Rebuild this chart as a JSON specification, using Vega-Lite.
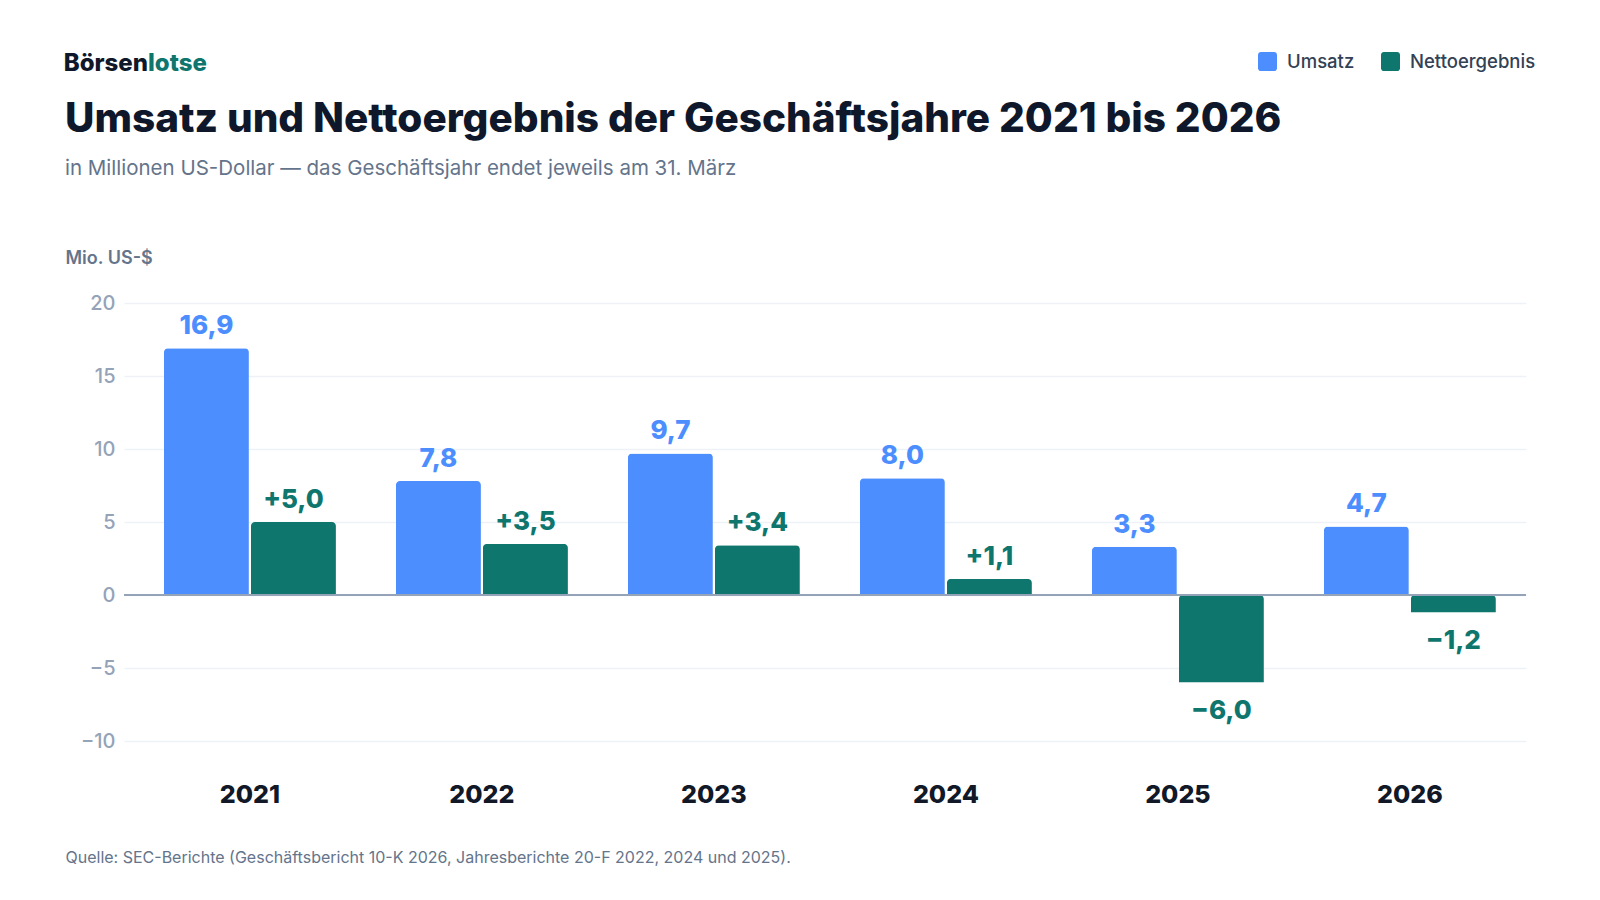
{
  "$schema": "https://vega.github.io/schema/vega-lite/v6.json",
  "background": "white",
  "padding": {"left": 63, "top": 52, "right": 40, "bottom": 30},
  "config": {
    "font": "Inter",
    "view": {"stroke": null},
    "locale": {
      "number": {
        "decimal": ",",
        "thousands": ".",
        "grouping": [3],
        "currency": ["", " $"],
        "minus": "−"
      }
    }
  },
  "spacing": 24,
  "vconcat": [
    {
      "width": 1402,
      "height": 24,
      "data": {"values": [{"part": "Börsen"}, {"part": "lotse"}]},
      "layer": [
        {
          "transform": [{"filter": "datum.part === 'Börsen'"}],
          "mark": {"type": "text", "align": "right", "baseline": "middle", "dx": 24, "fontSize": 24, "fontWeight": 800, "color": "#0f172a"},
          "encoding": {
            "x": {"datum": 0, "type": "quantitative", "scale": {"domain": [0, 1]}, "axis": null},
            "text": {"field": "part"}
          }
        },
        {
          "transform": [{"filter": "datum.part === 'lotse'"}],
          "mark": {"type": "text", "align": "left", "baseline": "middle", "dx": 24, "fontSize": 24, "fontWeight": 800, "color": "#0f766e"},
          "encoding": {
            "x": {"datum": 0, "type": "quantitative", "scale": {"domain": [0, 1]}, "axis": null},
            "text": {"field": "part"}
          }
        }
      ]
    },
    {
      "width": 1402,
      "height": 438,
      "title": {
        "text": "Umsatz und Nettoergebnis der Geschäftsjahre 2021 bis 2026",
        "subtitle": "in Millionen US-Dollar — das Geschäftsjahr endet jeweils am 31. März",
        "anchor": "start",
        "frame": "bounds",
        "font": "Inter",
        "fontSize": 40.5,
        "fontWeight": 800,
        "color": "#0f172a",
        "subtitleFont": "Inter",
        "subtitleFontSize": 20.5,
        "subtitleFontWeight": 400,
        "subtitleColor": "#64748b",
        "subtitlePadding": 18,
        "offset": 70
      },
      "data": {
        "values": [
          {"year": "2021", "series": "Umsatz", "value": 16.9},
          {"year": "2021", "series": "Nettoergebnis", "value": 5.0},
          {"year": "2022", "series": "Umsatz", "value": 7.8},
          {"year": "2022", "series": "Nettoergebnis", "value": 3.5},
          {"year": "2023", "series": "Umsatz", "value": 9.7},
          {"year": "2023", "series": "Nettoergebnis", "value": 3.4},
          {"year": "2024", "series": "Umsatz", "value": 8.0},
          {"year": "2024", "series": "Nettoergebnis", "value": 1.1},
          {"year": "2025", "series": "Umsatz", "value": 3.3},
          {"year": "2025", "series": "Nettoergebnis", "value": -6.0},
          {"year": "2026", "series": "Umsatz", "value": 4.7},
          {"year": "2026", "series": "Nettoergebnis", "value": -1.2}
        ]
      },
      "layer": [
        {
          "encoding": {
            "x": {
              "field": "year",
              "type": "nominal",
              "scale": {"paddingInner": 0.2586, "paddingOuter": 0.151, "align": 0.57},
              "axis": {
                "labelAngle": 0,
                "labelFontSize": 25,
                "labelFontWeight": 800,
                "labelColor": "#111827",
                "labelPadding": 41,
                "domain": false,
                "ticks": false,
                "grid": false,
                "title": "Quelle: SEC-Berichte (Geschäftsbericht 10-K 2026, Jahresberichte 20-F 2022, 2024 und 2025).",
                "titleX": -59,
                "titleY": 116,
                "titleAlign": "left",
                "titleBaseline": "middle",
                "titleFontSize": 16,
                "titleFontWeight": 400,
                "titleColor": "#64748b"
              }
            },
            "xOffset": {
              "field": "series",
              "type": "nominal",
              "scale": {"domain": ["Umsatz", "Nettoergebnis"], "paddingInner": 0.023}
            },
            "y": {
              "field": "value",
              "type": "quantitative",
              "scale": {"domain": [-10, 20], "nice": false},
              "axis": {
                "values": [-10, -5, 0, 5, 10, 15, 20],
                "labelFontSize": 20,
                "labelFontWeight": 500,
                "labelColor": "#94a3b8",
                "labelPadding": 9,
                "domain": false,
                "ticks": false,
                "gridColor": "#eef1f5",
                "gridWidth": 1.5,
                "title": "Mio. US-$",
                "titleAngle": 0,
                "titleX": -59,
                "titleY": -45,
                "titleAlign": "left",
                "titleBaseline": "middle",
                "titleFontSize": 18,
                "titleFontWeight": 600,
                "titleColor": "#64748b"
              }
            }
          },
          "layer": [
            {
              "mark": {"type": "bar", "cornerRadiusEnd": 4},
              "encoding": {
                "color": {
                  "field": "series",
                  "type": "nominal",
                  "scale": {"domain": ["Umsatz", "Nettoergebnis"], "range": ["#4d8eff", "#0f766e"]},
                  "legend": {
                    "orient": "none",
                    "legendX": 1134,
                    "legendY": 0,
                    "direction": "horizontal",
                    "title": null,
                    "symbolType": "M-0.7,-1H0.7A0.3,0.3 0 0 1 1,-0.7V0.7A0.3,0.3 0 0 1 0.7,1H-0.7A0.3,0.3 0 0 1 -1,0.7V-0.7A0.3,0.3 0 0 1 -0.7,-1Z",
                    "symbolSize": 361,
                    "symbolStrokeWidth": 0,
                    "symbolOpacity": 1,
                    "labelFontSize": 18.5,
                    "labelFontWeight": 500,
                    "labelColor": "#334155",
                    "labelOffset": 10,
                    "columnPadding": 26
                  }
                }
              }
            },
            {
              "transform": [{"filter": "datum.series === 'Umsatz'"}],
              "mark": {"type": "text", "baseline": "alphabetic", "dy": -14, "fontSize": 26, "fontWeight": 800, "color": "#4d8eff"},
              "encoding": {
                "text": {"field": "value", "type": "quantitative", "format": ".1f"}
              }
            },
            {
              "transform": [{"filter": "datum.series === 'Nettoergebnis' && datum.value >= 0"}],
              "mark": {"type": "text", "baseline": "alphabetic", "dy": -14, "fontSize": 26, "fontWeight": 800, "color": "#0f766e"},
              "encoding": {
                "text": {"field": "value", "type": "quantitative", "format": "+.1f"}
              }
            },
            {
              "transform": [{"filter": "datum.series === 'Nettoergebnis' && datum.value < 0"}],
              "mark": {"type": "text", "baseline": "top", "dy": 15, "fontSize": 26, "fontWeight": 800, "color": "#0f766e"},
              "encoding": {
                "text": {"field": "value", "type": "quantitative", "format": "+.1f"}
              }
            }
          ]
        },
        {
          "mark": {"type": "rule", "color": "#94a3b8", "strokeWidth": 2},
          "encoding": {
            "y": {"datum": 0, "type": "quantitative"}
          }
        }
      ]
    }
  ]
}
